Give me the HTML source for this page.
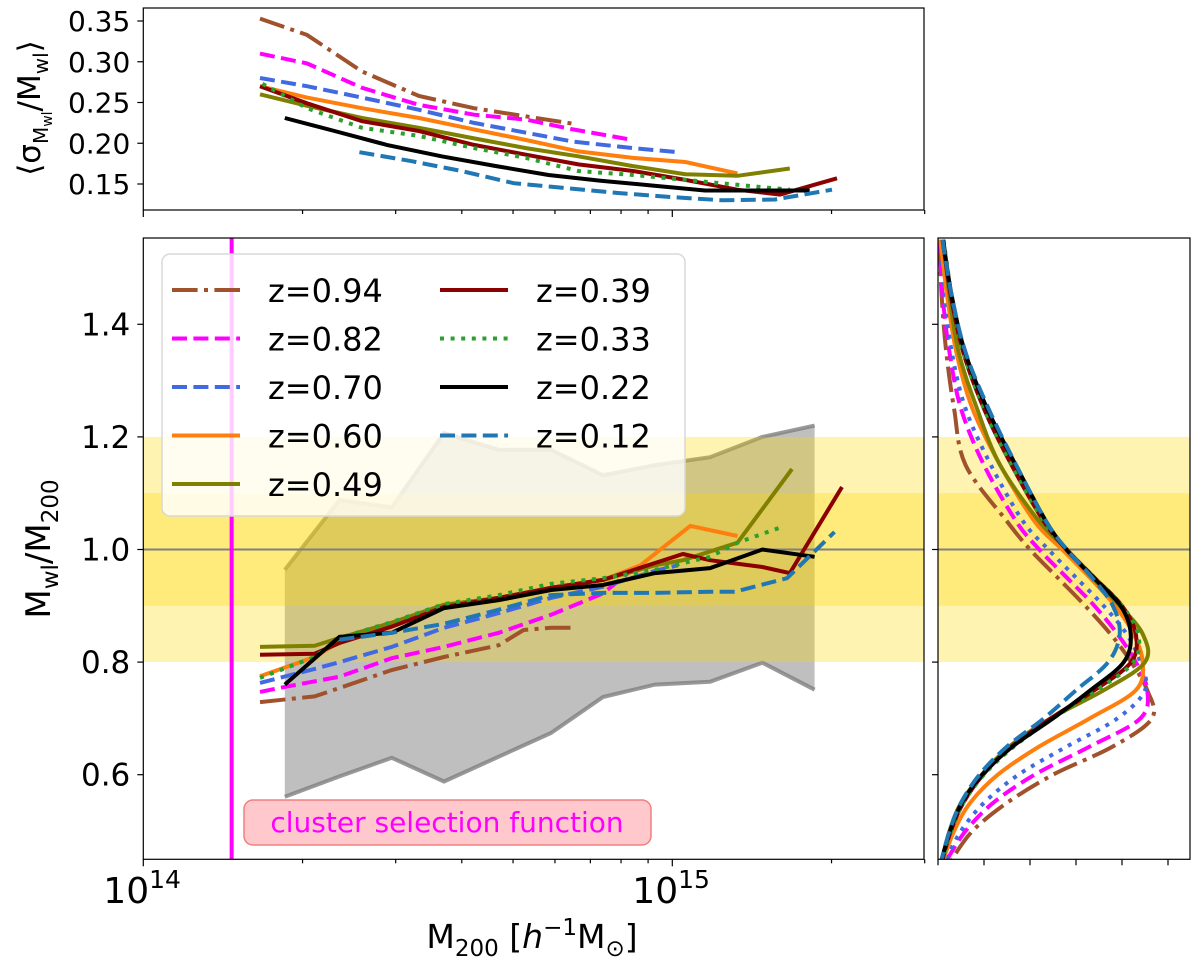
<!DOCTYPE html>
<html><head><meta charset="utf-8"><style>
body{margin:0;background:#fff}
svg text{font-family:"DejaVu Sans","Liberation Sans",sans-serif}
</style></head><body>
<svg id="c" width="1200" height="962" xmlns="http://www.w3.org/2000/svg"></svg>
<script>
// ---- data ----
const seriesNames=["z=0.94","z=0.82","z=0.70","z=0.60","z=0.49","z=0.39","z=0.33","z=0.22","z=0.12"];
const seriesColors=["#a0522d","#ff00ff","#4169e1","#ff7f0e","#808000","#8b0000","#2ca02c","#000000","#1f77b4"];
const seriesDash=["25.6,6.4,4,6.4","15,6.4","15,6.4","","","","4,6.6","","15,6.4"];
// main panel: log10 mass and Mwl/M200
const mainX=[
[14.2206,14.3238,14.3709,14.4698,14.5684,14.6718,14.7189,14.7707,14.8176],
[14.2206,14.2675,14.3709,14.4698,14.5684,14.6718,14.7707,14.869,14.9163],
[14.2206,14.3238,14.3709,14.4698,14.5684,14.6718,14.7707,14.869,14.9673,15.0108],
[14.2206,14.3238,14.3709,14.4698,14.5684,14.6718,14.7707,14.869,14.9399,15.034,15.1233],
[14.2206,14.3238,14.3709,14.4698,14.5684,14.6718,14.7707,14.869,14.9673,15.0202,15.1233,15.2263],
[14.2206,14.3238,14.3709,14.4698,14.5684,14.6718,14.7707,14.869,14.9673,15.0202,15.0713,15.1703,15.2221,15.3208],
[14.2206,14.3238,14.3709,14.4698,14.5684,14.6718,14.7707,14.869,14.9673,15.0713,15.1233,15.2127],
[14.2675,14.3709,14.4698,14.5684,14.6718,14.7707,14.869,14.9673,15.0713,15.1703,15.269],
[14.3709,14.4698,14.5684,14.6718,14.7707,14.869,14.9673,15.0713,15.1185,15.2168,15.3066]];
const mainY=[
[0.729,0.739,0.754,0.786,0.809,0.830,0.857,0.861,0.861],
[0.747,0.756,0.774,0.807,0.827,0.852,0.884,0.922,0.958],
[0.763,0.788,0.800,0.827,0.861,0.887,0.914,0.934,0.962,0.972],
[0.775,0.809,0.836,0.866,0.900,0.914,0.932,0.946,0.972,1.042,1.024],
[0.827,0.829,0.843,0.870,0.902,0.914,0.932,0.946,0.972,0.981,1.012,1.143],
[0.813,0.815,0.834,0.863,0.898,0.914,0.932,0.946,0.976,0.992,0.981,0.969,0.958,1.111],
[0.772,0.809,0.843,0.871,0.903,0.919,0.939,0.949,0.964,0.987,1.012,1.042],
[0.760,0.845,0.852,0.896,0.910,0.928,0.937,0.958,0.967,1.000,0.987],
[0.840,0.852,0.868,0.893,0.919,0.923,0.923,0.925,0.925,0.949,1.031]];
const bandX=[14.2675,14.3709,14.4698,14.5684,14.6718,14.7707,14.869,14.9673,15.0713,15.1703,15.269];
const bandUpper=[0.964,1.088,1.075,1.207,1.177,1.177,1.132,1.150,1.164,1.200,1.220];
const bandLower=[0.561,0.597,0.630,0.588,0.632,0.674,0.738,0.760,0.765,0.799,0.751];
// top panel: scatter
const topX=[
[14.2206,14.3094,14.4134,14.5212,14.6251,14.7234,14.8123],
[14.2206,14.3094,14.4134,14.5212,14.6251,14.7234,14.8123,14.9257],
[14.2206,14.3094,14.4134,14.5212,14.6251,14.7234,14.8123,14.9257,15.0108],
[14.2206,14.3094,14.4134,14.5212,14.6251,14.7234,14.8223,14.9257,15.0246,15.1233],
[14.2206,14.3094,14.4134,14.5212,14.6251,14.7234,14.8223,14.9257,15.0246,15.1233,15.2221],
[14.2206,14.3094,14.4134,14.5212,14.6251,14.7234,14.8223,14.9257,15.0246,15.1233,15.2036,15.3113],
[14.2251,14.3094,14.4134,14.5212,14.6251,14.7234,14.8223,14.9257,15.0246,15.1233,15.2221],
[14.2675,14.3614,14.4603,14.5637,14.6671,14.766,14.8646,14.9635,15.0618,15.1609,15.2597],
[14.4085,14.5074,14.6013,14.7002,14.7989,14.8974,14.9964,15.0951,15.1938,15.3019]];
const topY=[
[0.353,0.333,0.288,0.258,0.243,0.233,0.224],
[0.310,0.298,0.268,0.247,0.235,0.229,0.217,0.204],
[0.280,0.270,0.256,0.241,0.225,0.213,0.202,0.194,0.189],
[0.270,0.256,0.243,0.231,0.217,0.204,0.190,0.182,0.177,0.163],
[0.260,0.246,0.231,0.219,0.206,0.194,0.184,0.172,0.162,0.160,0.169],
[0.270,0.249,0.227,0.215,0.198,0.186,0.174,0.166,0.155,0.143,0.137,0.157],
[0.273,0.243,0.219,0.209,0.194,0.182,0.166,0.161,0.155,0.149,0.143],
[0.231,0.215,0.198,0.184,0.172,0.161,0.154,0.148,0.142,0.142,0.142],
[0.189,0.178,0.166,0.151,0.145,0.139,0.134,0.130,0.131,0.143]];
// right panel: density at value grid
const pdfGrid=[1.55,1.45,1.35,1.25,1.15,1.05,1.0,0.95,0.9,0.85,0.8,0.75,0.7,0.65,0.6,0.55,0.5,0.45];
const pdfVals=[
[0.03,0.08,0.18,0.35,0.6,1.5,2.0,2.6,3.2,3.75,4.2,4.55,4.65,3.8,2.5,1.5,0.75,0.3],
[0.03,0.1,0.25,0.5,1.0,1.7,2.2,2.8,3.4,3.9,4.3,4.55,4.4,3.3,2.1,1.2,0.6,0.2],
[0.05,0.15,0.3,0.6,1.15,1.85,2.4,3.0,3.6,4.1,4.4,4.5,3.9,2.8,1.75,1.0,0.5,0.18],
[0.05,0.2,0.4,0.75,1.35,2.1,2.7,3.3,3.85,4.25,4.45,4.3,3.3,2.2,1.3,0.7,0.35,0.12],
[0.12,0.25,0.45,0.85,1.35,2.2,2.8,3.35,3.95,4.45,4.5,3.6,2.45,1.55,0.95,0.5,0.25,0.1],
[0.1,0.28,0.55,1.0,1.6,2.3,2.8,3.4,4.0,4.3,4.2,3.4,2.45,1.6,0.98,0.55,0.28,0.1],
[0.12,0.3,0.55,1.0,1.6,2.3,2.8,3.4,4.0,4.35,4.25,3.45,2.5,1.65,1.0,0.55,0.28,0.1],
[0.11,0.3,0.59,1.07,1.69,2.35,2.79,3.38,3.97,4.19,4.04,3.31,2.5,1.62,0.96,0.52,0.26,0.08],
[0.1,0.3,0.6,1.1,1.7,2.35,2.8,3.35,3.8,3.95,3.7,3.0,2.3,1.5,0.9,0.5,0.25,0.08]];
const pdfDash=["25.6,6.4,4,6.4","15,6.4","4,6.6","","","","4,6.6","","15,6.4"];
const mainTicks=[0.6,0.8,1.0,1.2,1.4];
const mainTickLabels=["0.6","0.8","1.0","1.2","1.4"];
const topTicks=[0.15,0.20,0.25,0.30,0.35];
const topTickLabels=["0.15","0.20","0.25","0.30","0.35"];
const selectionMass=14.167;

// ---- scales ----
const X0=143.3,X1=924,DEC=529;
const sx=l=>X0+(l-14)*DEC;
const MT=238,MB=859.3;
const sy=v=>549.5-(v-1)*563;
const TT=8,TB=210;
const ty=v=>21-(v-0.35)*815;
const RL=938,RR=1190;
const rx=d=>RL+d*46;

const svg=document.getElementById('c');
const NS="http://www.w3.org/2000/svg";
function el(tag,attrs,parent){const e=document.createElementNS(NS,tag);for(const k in attrs)e.setAttribute(k,attrs[k]);(parent||svg).appendChild(e);return e;}
function pts(xs,ys,fx,fy){return xs.map((x,i)=>fx(x).toFixed(1)+","+fy(ys[i]).toFixed(1)).join(" ");}
function smooth(xs,ys,fx,fy){
  const P=xs.map((x,i)=>[fx(x),fy(ys[i])]);
  let d="M"+P[0][0].toFixed(1)+","+P[0][1].toFixed(1);
  for(let i=0;i<P.length-1;i++){
    const p0=P[Math.max(0,i-1)],p1=P[i],p2=P[i+1],p3=P[Math.min(P.length-1,i+2)];
    const c1=[p1[0]+(p2[0]-p0[0])/6,p1[1]+(p2[1]-p0[1])/6];
    const c2=[p2[0]-(p3[0]-p1[0])/6,p2[1]-(p3[1]-p1[1])/6];
    d+=" C"+c1[0].toFixed(1)+","+c1[1].toFixed(1)+" "+c2[0].toFixed(1)+","+c2[1].toFixed(1)+" "+p2[0].toFixed(1)+","+p2[1].toFixed(1);
  }
  return d;
}

const defs=el('defs',{});
const cm=el('clipPath',{id:'cm'},defs);el('rect',{x:X0,y:MT,width:X1-X0,height:MB-MT},cm);
const ct=el('clipPath',{id:'ct'},defs);el('rect',{x:X0,y:TT,width:X1-X0,height:TB-TT},ct);
const cr=el('clipPath',{id:'cr'},defs);el('rect',{x:RL,y:MT,width:RR-RL,height:MB-MT},cr);

// ===== top panel =====
const gTop=el('g',{'clip-path':'url(#ct)'});

for(let i=0;i<seriesNames.length;i++){
  const p=el('polyline',{points:pts(topX[i],topY[i],sx,ty),fill:'none',stroke:seriesColors[i],'stroke-width':4,'stroke-dasharray':seriesDash[i]},gTop);
  
  
}
const topFrame=el('rect',{x:X0,y:TT,width:X1-X0,height:TB-TT,fill:'none',stroke:'#000','stroke-width':1.2});

topTicks.forEach((t,i)=>{
  el('line',{x1:X0-6,x2:X0,y1:ty(t),y2:ty(t),stroke:'#000','stroke-width':1.2});
  const tx=el('text',{x:X0-13,y:ty(t)+10,'text-anchor':'end','font-size':28},svg);tx.textContent=topTickLabels[i];
  
});
function xticks(yb){
  for(let d=14;d<=15;d++){
    for(let m=1;m<=9;m++){const l=d+Math.log10(m);if(l>15.48)break;
      el('line',{x1:sx(l),x2:sx(l),y1:yb,y2:yb+(m==1?7:4),stroke:'#000','stroke-width':1.2});}
  }
}
xticks(TB);
const tyl=el('text',{x:0,y:0,'font-size':31,transform:'translate(40,108) rotate(-90)','text-anchor':'middle'});
tyl.innerHTML='⟨σ<tspan font-size="20" dy="8">M</tspan><tspan font-size="14" dy="4">wl</tspan><tspan dy="-12">/M</tspan><tspan font-size="20" dy="8">wl</tspan><tspan dy="-8">⟩</tspan>';


// ===== main panel =====
const gM=el('g',{'clip-path':'url(#cm)'});

const poly=bandX.map((x,i)=>sx(x)+","+sy(bandUpper[i])).concat(bandX.slice().reverse().map((x,j)=>sx(x)+","+sy(bandLower[bandX.length-1-j]))).join(" ");
const band=el('polygon',{points:poly,fill:'#808080','fill-opacity':0.5,stroke:'none'},gM);

const bu=el('polyline',{points:pts(bandX,bandUpper,sx,sy),fill:'none',stroke:'#808080','stroke-width':4,'stroke-opacity':0.8},gM);

const bl=el('polyline',{points:pts(bandX,bandLower,sx,sy),fill:'none',stroke:'#808080','stroke-width':4,'stroke-opacity':0.8},gM);

function ybands(g,x0,x1){
  const b1=el('rect',{x:x0,y:sy(1.2),width:x1-x0,height:sy(0.8)-sy(1.2),fill:'#ffd700','fill-opacity':0.3},g);
  
  const b2=el('rect',{x:x0,y:sy(1.1),width:x1-x0,height:sy(0.9)-sy(1.1),fill:'#ffd700','fill-opacity':0.3},g);
  
  const r=el('line',{x1:x0,x2:x1,y1:sy(1),y2:sy(1),stroke:'#808080','stroke-width':2},g);
  
}
ybands(gM,X0,X1);
const vl=el('line',{x1:sx(selectionMass),x2:sx(selectionMass),y1:MT,y2:MB,stroke:'#ff00ff','stroke-width':4},gM);

for(let i=0;i<seriesNames.length;i++){
  const p=el('polyline',{points:pts(mainX[i],mainY[i],sx,sy),fill:'none',stroke:seriesColors[i],'stroke-width':4,'stroke-dasharray':seriesDash[i]},gM);
  
  
}
// legend
const lg=el('g',{});

el('rect',{x:162,y:254,width:523,height:262,rx:8,fill:'#fff','fill-opacity':0.8,stroke:'#d8d8d8','stroke-width':1.5},lg);
for(let i=0;i<seriesNames.length;i++){
  const col=i<5?0:1,row=i<5?i:i-5;
  const lx=col?440:172,yy=290+row*48.5;
  const e=el('g',{},lg);
  
  el('line',{x1:lx,x2:lx+68,y1:yy,y2:yy,stroke:seriesColors[i],'stroke-width':4,'stroke-dasharray':seriesDash[i]},e);
  const t=el('text',{x:lx+96,y:yy+12,'font-size':32},e);t.textContent=seriesNames[i];
}
const sl=el('g',{});

el('rect',{x:244,y:800,width:407,height:45,rx:9,fill:'#ffc8cc',stroke:'#f08080','stroke-width':1.5},sl);
const st=el('text',{x:447,y:832,'text-anchor':'middle','font-size':28,fill:'#ff00ff'},sl);st.textContent='cluster selection function';
const mf=el('rect',{x:X0,y:MT,width:X1-X0,height:MB-MT,fill:'none',stroke:'#000','stroke-width':1.2});

mainTicks.forEach((t,i)=>{
  el('line',{x1:X0-6,x2:X0,y1:sy(t),y2:sy(t),stroke:'#000','stroke-width':1.2});
  const tx=el('text',{x:X0-13,y:sy(t)+11,'text-anchor':'end','font-size':31});tx.textContent=mainTickLabels[i];
  
});
xticks(MB);
[[14,"14"],[15,"15"]].forEach(([l,e])=>{
  const t=el('text',{x:sx(l)-40,y:903,'font-size':36});
  t.innerHTML='10<tspan font-size="25" dy="-15">'+e+'</tspan>';
  
});
const xl=el('text',{x:532,y:948,'text-anchor':'middle','font-size':33});
xl.innerHTML='M<tspan font-size="23" dy="8">200</tspan><tspan dy="-8"> [</tspan><tspan font-style="italic">h</tspan><tspan font-size="23" dy="-13">−1</tspan><tspan dy="13">M</tspan><tspan font-size="23" dy="8">⊙</tspan><tspan dy="-8">]</tspan>';

const yl=el('text',{x:0,y:0,'font-size':34,transform:'translate(50,549) rotate(-90)','text-anchor':'middle'});
yl.innerHTML='M<tspan font-size="23" dy="8">wl</tspan><tspan dy="-8">/M</tspan><tspan font-size="23" dy="8">200</tspan>';


// ===== right panel =====
const gR=el('g',{'clip-path':'url(#cr)'});

ybands(gR,RL,RR);
for(let i=0;i<seriesNames.length;i++){
  const p=el('path',{d:smooth(pdfVals[i],pdfGrid,rx,sy),fill:'none',stroke:seriesColors[i],'stroke-width':4,'stroke-dasharray':pdfDash[i],'stroke-linejoin':'round'},gR);
  
  
}
const rf=el('rect',{x:RL,y:MT,width:RR-RL,height:MB-MT,fill:'none',stroke:'#000','stroke-width':1.2});

mainTicks.forEach(t=>el('line',{x1:RL-6,x2:RL,y1:sy(t),y2:sy(t),stroke:'#000','stroke-width':1.2}));
for(let d=0;d<=5;d++)el('line',{x1:rx(d),x2:rx(d),y1:MB,y2:MB+6,stroke:'#000','stroke-width':1.2});
</script>
</body></html>
